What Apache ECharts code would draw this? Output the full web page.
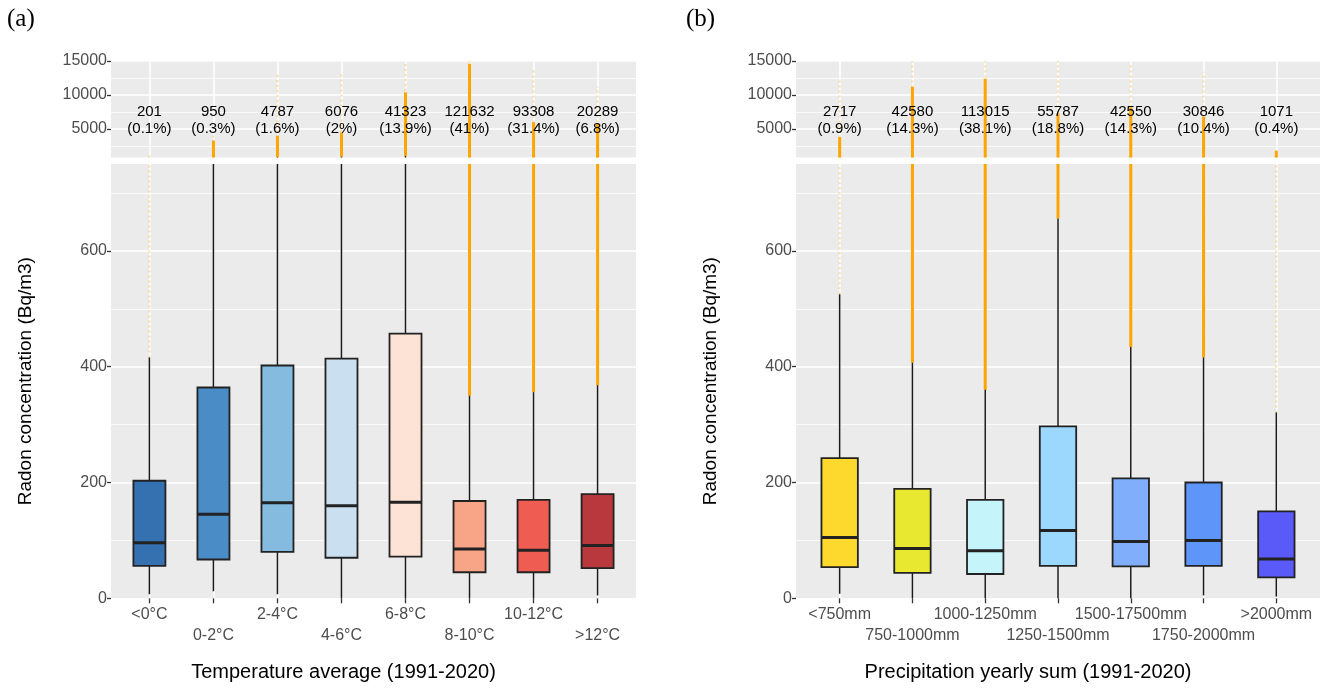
<!doctype html>
<html lang="en">
<head>
<meta charset="UTF-8" />
<title>Radon concentration by climate class</title>
<style>
  html, body { margin: 0; padding: 0; background: #fff; }
  #chart { width: 1325px; height: 690px; }
</style>
</head>
<body>
<div id="chart"></div>
<script src="https://cdn.jsdelivr.net/npm/echarts@6.0.0/dist/echarts.min.js"></script>
<script>
// (a) temperature average classes
const tempCats = ['<0°C', '0-2°C', '2-4°C', '4-6°C', '6-8°C', '8-10°C', '10-12°C', '>12°C'];
const tempCounts = [201, 950, 4787, 6076, 41323, 121632, 93308, 20289];
const tempShares = ['0.1%', '0.3%', '1.6%', '2%', '13.9%', '41%', '31.4%', '6.8%'];
const tempLow = [7, 12, 7, 0, 0, 0, 0, 5];
const tempQ1 = [56, 67, 80, 70, 72, 45, 45, 52];
const tempMed = [96, 145, 165, 160, 166, 85, 83, 91];
const tempQ3 = [203, 364, 402, 414, 457, 168, 170, 180];
const tempHigh = [416, 810, 885, 930, 1035, 350, 356, 368];
// outliers: dense part and sparse tail
const tempSolidLo = [null, 810, 885, 930, 1035, 350, 356, 368];
const tempSolidHi = [null, 3300, 4000, 4500, 10400, 14600, 6000, 5800];
const tempFaintHi = [1400, 4200, 13200, 13100, 15000, 15000, 13900, 11200];

// (b) precipitation yearly sum classes
const precCats = ['<750mm', '750-1000mm', '1000-1250mm', '1250-1500mm', '1500-17500mm', '1750-2000mm', '>2000mm'];
const precCounts = [2717, 42580, 113015, 55787, 42550, 30846, 1071];
const precShares = ['0.9%', '14.3%', '38.1%', '18.8%', '14.3%', '10.4%', '0.4%'];
const precLow = [8, 0, 0, 0, 0, 5, 3];
const precQ1 = [54, 44, 42, 56, 55, 56, 36];
const precMed = [105, 86, 82, 117, 98, 100, 68];
const precQ3 = [242, 189, 170, 297, 207, 200, 150];
const precHigh = [525, 407, 360, 656, 434, 416, 321];
const precSolidLo = [760, 407, 360, 656, 434, 416, 760];
const precSolidHi = [3800, 11200, 12400, 7300, 8200, 6800, 1800];
const precFaintHi = [12200, 15000, 15000, 15000, 14600, 13400, 2000];

// tick labels of the broken y axis
const upperTicks = [5000, 10000, 15000];
const upperMinor = [2500, 7500, 12500];
const lowerTicks = [0, 200, 400, 600];
const lowerMinor = [100, 300, 500, 700];

const tempColors = ['#3571b0', '#4a8cc6', '#84bbdf', '#cadff0', '#fde2d6', '#f8a487', '#ef5d52', '#b8383e'];
const precColors = ['#fdd92e', '#e8e830', '#c6f4fb', '#9cd7fd', '#81aefb', '#5e95f8', '#5a5af9'];

const FONT = 'Liberation Sans, Arial, sans-serif';
const UP = [800, 15000];
const LO = [0, 750];
const LABEL_AT = 6200;

const chart = echarts.init(document.getElementById('chart'));

const grids = [], xAxes = [], extraX = [], yAxes = [], series = [];

function segment(range, style) {
  return function (params, api) {
    const x = api.value(0);
    const a = api.value(1), b = api.value(2);
    if (isNaN(a) || isNaN(b)) return null;
    const lo = Math.max(a, range[0]);
    const hi = Math.min(b, range[1]);
    if (hi <= lo) return null;
    const p1 = api.coord([x, lo]);
    const p2 = api.coord([x, hi]);
    return { type: 'line', shape: { x1: p1[0], y1: p1[1], x2: p2[0], y2: p2[1] }, style: style };
  };
}

function addPanel(p, d) {
  const n = d.cats.length;
  const idx = d.cats.map((c, i) => i);
  const evens = idx.filter(i => i % 2 === 0);
  const odds = idx.filter(i => i % 2 === 1);
  const gUp = p * 2, gLo = p * 2 + 1;
  grids.push({ left: d.left, width: d.width, top: 61, height: 96.5, backgroundColor: '#ebebeb', show: true, borderWidth: 0 });
  grids.push({ left: d.left, width: d.width, top: 164, height: 434.3, backgroundColor: '#ebebeb', show: true, borderWidth: 0 });

  const labelStyle = { color: '#4d4d4d', fontSize: 16, fontFamily: FONT, formatter: v => d.cats[Math.round(v)] };

  [gUp, gLo].forEach(g => {
    const lower = g === gLo;
    xAxes.push({
      type: 'value', gridIndex: g, position: 'bottom', min: -0.6, max: n - 0.4,
      axisLine: { show: false, onZero: false },
      axisTick: { show: lower, customValues: idx, length: 5, lineStyle: { color: '#333', width: 1.3 } },
      axisLabel: Object.assign({ show: lower, customValues: evens, margin: 8 }, labelStyle),
      splitLine: { show: true, lineStyle: { color: '#fff', width: 1.6 } },
      name: lower ? d.xName : '', nameLocation: 'middle', nameGap: 64,
      nameTextStyle: { color: '#000', fontSize: 20, fontFamily: FONT, padding: [0, 60, 0, 0] }
    });
    if (lower) {
      // second row of alternating category labels
      extraX.push({
        type: 'value', gridIndex: g, position: 'bottom', offset: 0, min: -0.6, max: n - 0.4,
        axisLine: { show: false, onZero: false }, axisTick: { show: false }, splitLine: { show: false },
        axisLabel: Object.assign({ show: true, customValues: odds, margin: 29 }, labelStyle)
      });
    }
    const range = lower ? LO : UP;
    const minor = lower ? lowerMinor : upperMinor;
    const major = lower ? lowerTicks : upperTicks;
    yAxes.push({
      type: 'value', gridIndex: g, position: 'left', min: range[0], max: range[1],
      axisLine: { show: false, onZero: false },
      axisTick: { show: false, customValues: minor },
      axisLabel: { show: false, customValues: minor },
      splitLine: { show: true, lineStyle: { color: '#fff', width: 0.8 } }
    });
    yAxes.push({
      type: 'value', gridIndex: g, position: 'left', min: range[0], max: range[1],
      axisLine: { show: false, onZero: false },
      axisTick: { show: true, customValues: major, length: 4, lineStyle: { color: '#333', width: 1.3 } },
      axisLabel: {
        show: true, customValues: major, margin: 4, showMinLabel: true, showMaxLabel: true,
        formatter: v => String(v),
        color: '#4d4d4d', fontSize: 16, fontFamily: FONT
      },
      splitLine: { show: true, lineStyle: { color: '#fff', width: 1.6 } },
      name: lower ? 'Radon concentration (Bq/m3)' : '', nameLocation: 'middle', nameGap: 76,
      nameTextStyle: { color: '#000', fontSize: 19, fontFamily: FONT }
    });

    const yi = g * 2 + 1;
    const faint = idx.map(i => [i, d.high[i], d.faintHi[i]]);
    const solid = idx.map(i => [i, d.solidLo[i] == null ? NaN : d.solidLo[i], d.solidHi[i] == null ? NaN : d.solidHi[i]]);
    series.push({
      type: 'custom', xAxisIndex: g, yAxisIndex: yi, silent: true, data: faint,
      renderItem: segment(range, { stroke: 'rgba(255,165,0,0.35)', lineWidth: 2, lineDash: [2, 3] })
    });
    series.push({
      type: 'custom', xAxisIndex: g, yAxisIndex: yi, silent: true, data: solid,
      renderItem: segment(range, { stroke: '#ffa500', lineWidth: 3 })
    });
    if (!lower) {
      series.push({
        type: 'custom', xAxisIndex: g, yAxisIndex: yi, silent: true,
        data: idx.map(i => [i, d.q3[i], d.high[i]]),
        renderItem: segment(range, { stroke: '#1a1a1a', lineWidth: 1.5 })
      });
      series.push({
        type: 'custom', xAxisIndex: g, yAxisIndex: yi, silent: true,
        data: idx.map(i => [i, LABEL_AT, d.counts[i]]),
        renderItem: function (params, api) {
          const i = params.dataIndex;
          const pt = api.coord([api.value(0), api.value(1)]);
          return {
            type: 'text', x: pt[0], y: pt[1],
            style: {
              text: d.counts[i] + '\n(' + d.shares[i] + ')',
              align: 'center', verticalAlign: 'middle', lineHeight: 17,
              fontSize: 15, fontFamily: FONT, fill: '#000'
            }
          };
        }
      });
    } else {
      series.push({
        type: 'custom', xAxisIndex: g, yAxisIndex: yi, silent: true,
        data: idx.map(i => [i, d.low[i], d.q1[i], d.med[i], d.q3[i], d.high[i]]),
        renderItem: function (params, api) {
          const x = api.value(0);
          const pLow = api.coord([x, api.value(1)]);
          const pQ1 = api.coord([x, api.value(2)]);
          const pMed = api.coord([x, api.value(3)]);
          const pQ3 = api.coord([x, api.value(4)]);
          const pHigh = api.coord([x, Math.min(api.value(5), range[1])]);
          const w = api.size([0.5, 0])[0];
          const left = pLow[0] - w / 2;
          return {
            type: 'group',
            children: [
              { type: 'line', shape: { x1: pLow[0], y1: pLow[1], x2: pLow[0], y2: pHigh[1] }, style: { stroke: '#1a1a1a', lineWidth: 1.5 } },
              { type: 'rect', shape: { x: left, y: pQ3[1], width: w, height: pQ1[1] - pQ3[1] }, style: { fill: d.colors[params.dataIndex], stroke: '#222', lineWidth: 1.8 } },
              { type: 'line', shape: { x1: left, y1: pMed[1], x2: left + w, y2: pMed[1] }, style: { stroke: '#222', lineWidth: 3 } }
            ]
          };
        }
      });
    }
  });
}

addPanel(0, {
  left: 111, width: 525, cats: tempCats, counts: tempCounts, shares: tempShares,
  low: tempLow, q1: tempQ1, med: tempMed, q3: tempQ3, high: tempHigh,
  solidLo: tempSolidLo, solidHi: tempSolidHi, faintHi: tempFaintHi,
  colors: tempColors, xName: 'Temperature average (1991-2020)'
});
addPanel(1, {
  left: 796, width: 524, cats: precCats, counts: precCounts, shares: precShares,
  low: precLow, q1: precQ1, med: precMed, q3: precQ3, high: precHigh,
  solidLo: precSolidLo, solidHi: precSolidHi, faintHi: precFaintHi,
  colors: precColors, xName: 'Precipitation yearly sum (1991-2020)'
});

chart.setOption({
  animation: false,
  title: [
    { text: '(a)', left: 2, top: 2, textStyle: { fontFamily: 'Liberation Serif, Times New Roman, serif', fontSize: 25, fontWeight: 'normal', color: '#000' } },
    { text: '(b)', left: 681, top: 2, textStyle: { fontFamily: 'Liberation Serif, Times New Roman, serif', fontSize: 25, fontWeight: 'normal', color: '#000' } }
  ],
  grid: grids,
  xAxis: xAxes.concat(extraX),
  yAxis: yAxes,
  series: series
});
</script>
</body>
</html>
